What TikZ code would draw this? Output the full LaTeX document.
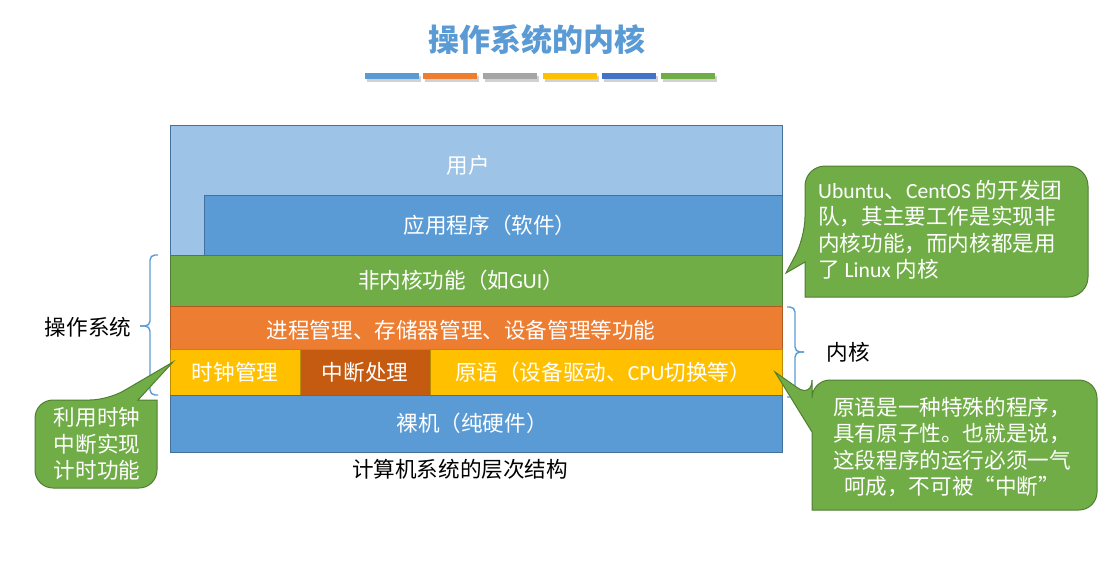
\documentclass[tikz,border=0pt]{standalone}
\usepackage{fontspec}
\setmainfont{Noto Sans CJK SC}
\newfontfamily\lat{Carlito}
\definecolor{cLB}{HTML}{9DC3E6}
\definecolor{cB}{HTML}{5B9BD5}
\definecolor{cBB}{HTML}{41719C}
\definecolor{cG}{HTML}{70AD47}
\definecolor{cGB}{HTML}{507E32}
\definecolor{cO}{HTML}{ED7D31}
\definecolor{cOB}{HTML}{AE5A21}
\definecolor{cY}{HTML}{FFC000}
\definecolor{cYB}{HTML}{BC8C00}
\definecolor{cDO}{HTML}{C55A11}
\definecolor{cGr}{HTML}{A5A5A5}
\definecolor{cN}{HTML}{4472C4}
\newcommand{\bodyfont}{\fontsize{21.6}{26.5}\selectfont}
\tikzset{
  layer/.style={draw=#1, line width=1pt, inner sep=0pt, anchor=north west},
  wtext/.style={text=white, font=\bodyfont, inner sep=0pt},
  ktext/.style={text=black, font=\bodyfont, inner sep=0pt},
  callout/.style={fill=cG, draw=cGB, line width=1pt},
  bar/.style={inner sep=0pt, minimum width=54pt, minimum height=6pt, anchor=north west},
  barshadow/.style={fill=black, opacity=0.18},
  bracestyle/.style={draw=cB, line width=1.4pt, rounded corners=5pt}
}
\begin{document}
\begin{tikzpicture}[x=1pt,y=-1pt]
\useasboundingbox (0,0) rectangle (1109,571);

% title
\node[text=cB, font=\fontsize{31}{36}\selectfont\bfseries, inner sep=0pt] (title) at (537,40) {操作系统的内核};
% colour bars with shadows
\foreach \x/\c [count=\i] in {365/cB,423/cO,483/cGr,543/cY,602/cN,661/cG}{
  \fill[barshadow] (\x+1.5,75.5) rectangle (\x+56,81.5);
  \node[bar, fill=\c] (bar\i) at (\x,73) {};
}

% layers
\node[layer=cBB, fill=cLB, minimum width=612pt, minimum height=130pt] (user) at (170,125) {};
\node[layer=cBB, fill=cB, minimum width=578pt, minimum height=60pt] (app) at (204,195) {};
\node[layer=cGB, fill=cG, minimum width=612pt, minimum height=51pt] (nonk) at (170,255) {};
\node[layer=cOB, fill=cO, minimum width=612pt, minimum height=43pt] (proc) at (170,306) {};
\node[layer=cYB, fill=cY, minimum width=130pt, minimum height=46pt] (clock) at (170,349) {};
\node[layer=cYB, fill=cDO, minimum width=130pt, minimum height=46pt] (intr) at (300,349) {};
\node[layer=cYB, fill=cY, minimum width=352pt, minimum height=46pt] (prim) at (430,349) {};
\node[layer=cBB, fill=cB, minimum width=612pt, minimum height=57pt] (bare) at (170,395) {};

% layer texts
\node[wtext] (tuser) at (468,165) {用户};
\node[wtext] (tapp) at (490,225) {应用程序（软件）};
\node[wtext] (tnonk) at (461,280) {非内核功能（如{\lat GUI}）};
\node[wtext] (tproc) at (461,330) {进程管理、存储器管理、设备管理等功能};
\node[wtext] (tclock) at (235,372) {时钟管理};
\node[wtext] (tintr) at (365,372) {中断处理};
\node[wtext] (tprim) at (603,372) {原语（设备驱动、{\lat CPU}切换等）};
\node[wtext] (tbare) at (472,423) {裸机（纯硬件）};
\node[ktext] (caption) at (460,469) {计算机系统的层次结构};

% braces
\coordinate (lbT) at (158,255);
\coordinate (lbM) at (140,326);
\coordinate (lbB) at (158,395);
\draw[bracestyle] (lbT) -- (150,255) -- (150,326) -- (lbM);
\draw[bracestyle] (lbM) -- (150,326) -- (150,395) -- (lbB);
\node[ktext] (os) at (88,327) {操作系统};
\coordinate (rbT) at (787,307);
\coordinate (rbM) at (804,352);
\coordinate (rbB) at (787,397);
\draw[bracestyle] (rbT) -- (795,307) -- (795,352) -- (rbM);
\draw[bracestyle] (rbM) -- (795,352) -- (795,397) -- (rbB);
\node[ktext] (kern) at (848,352) {内核};

% callout top right
\draw[callout] (900,166) [rounded corners=20pt] -- (805,166) -- (805,237) [sharp corners] -- (786,273) -- (805,262) -- (805,297) [rounded corners=20pt] -- (1088,297) -- (1088,166) -- cycle;
\node[wtext, align=left, anchor=north west] (c1) at (818,180) {{\lat Ubuntu}、{\lat CentOS} 的开发团\\队，其主要工作是实现非\\内核功能，而内核都是用\\了 {\lat Linux} 内核};

% callout bottom right
\draw[callout] (950,380) [rounded corners=18pt] -- (812,380) -- (812,398) [sharp corners] -- (775,372) -- (812,432) -- (812,510) [rounded corners=18pt] -- (1097,510) -- (1097,380) -- cycle;
\node[wtext, align=center] (c2) at (952,447) {原语是一种特殊的程序，\\具有原子性。也就是说，\\这段程序的运行必须一气\\呵成，不可被“中断”};

% callout left
\draw[callout] (35,440) [rounded corners=18pt] -- (35,400) -- (108,400) [sharp corners] -- (173,362) -- (138,400) -- (157,400) [rounded corners=18pt] -- (157,488) -- (35,488) -- cycle;
\node[wtext, align=center] (c3) at (97,444) {利用时钟\\中断实现\\计时功能};
\end{tikzpicture}
\end{document}
